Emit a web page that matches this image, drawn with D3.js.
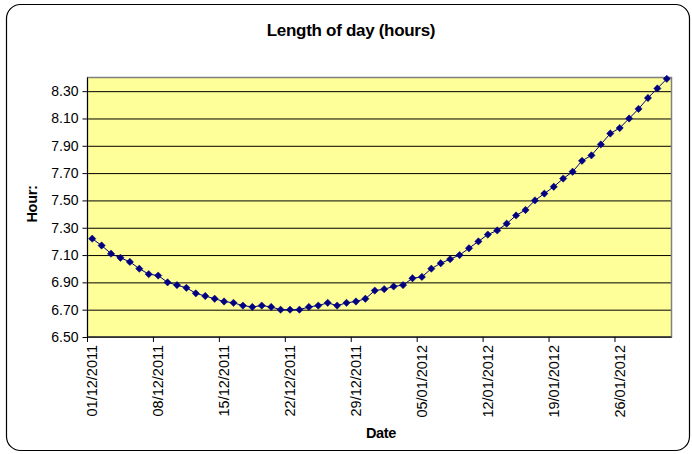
<!DOCTYPE html>
<html>
<head>
<meta charset="utf-8">
<script src="https://cdn.jsdelivr.net/npm/d3@7"></script>
<style>
  body { margin: 0; background: #fff; }
  text { font-family: "Liberation Sans", Arial, sans-serif; }
</style>
</head>
<body>
<div id="chart"></div>
<script>
var w = 692;
var h = 454;

// dates 01/12/2011 .. 31/01/2012
var dates = [
  '01/12/2011','02/12/2011','03/12/2011','04/12/2011','05/12/2011','06/12/2011','07/12/2011',
  '08/12/2011','09/12/2011','10/12/2011','11/12/2011','12/12/2011','13/12/2011','14/12/2011',
  '15/12/2011','16/12/2011','17/12/2011','18/12/2011','19/12/2011','20/12/2011','21/12/2011',
  '22/12/2011','23/12/2011','24/12/2011','25/12/2011','26/12/2011','27/12/2011','28/12/2011',
  '29/12/2011','30/12/2011','31/12/2011','01/01/2012','02/01/2012','03/01/2012','04/01/2012',
  '05/01/2012','06/01/2012','07/01/2012','08/01/2012','09/01/2012','10/01/2012','11/01/2012',
  '12/01/2012','13/01/2012','14/01/2012','15/01/2012','16/01/2012','17/01/2012','18/01/2012',
  '19/01/2012','20/01/2012','21/01/2012','22/01/2012','23/01/2012','24/01/2012','25/01/2012',
  '26/01/2012','27/01/2012','28/01/2012','29/01/2012','30/01/2012','31/01/2012'
];
var hours = [
  7.22, 7.17, 7.11, 7.08, 7.05, 7.00, 6.96, 6.95, 6.90, 6.88,
  6.86, 6.82, 6.80, 6.78, 6.76, 6.75, 6.73, 6.72, 6.73, 6.72,
  6.70, 6.70, 6.70, 6.72, 6.73, 6.75, 6.73, 6.75, 6.76, 6.78,
  6.84, 6.85, 6.87, 6.88, 6.93, 6.94, 7.00, 7.04, 7.07, 7.10,
  7.15, 7.20, 7.25, 7.28, 7.33, 7.39, 7.43, 7.50, 7.55, 7.60,
  7.66, 7.71, 7.79, 7.83, 7.91, 7.99, 8.03, 8.10, 8.17, 8.25,
  8.32, 8.39
];
var yTicks = [6.50, 6.70, 6.90, 7.10, 7.30, 7.50, 7.70, 7.90, 8.10, 8.30];
var xLabels = ['01/12/2011','08/12/2011','15/12/2011','22/12/2011','29/12/2011',
  '05/01/2012','12/01/2012','19/01/2012','26/01/2012'];

var dataset = dates.map(function(d, i){ return {date: d, hours: hours[i]}; });

var plot = {left: 87.5, top: 77.5, right: 671.5, bottom: 337};
var innerW = plot.right - plot.left,
  innerH = plot.bottom - plot.top;

var x = d3.scaleBand()
  .domain(dates)
  .range([0, innerW])
  .padding(0);

var y = d3.scaleLinear()
  .domain([6.5, 8.4])
  .range([innerH, 0]);

var svg = d3.select('#chart')
  .append('svg')
    .attr('width', w)
    .attr('height', h);

// outer chart frame
svg.append('rect')
  .attr('x', 6.5).attr('y', 4.5)
  .attr('width', 683).attr('height', 446)
  .attr('rx', 14).attr('ry', 14)
  .style('fill', '#fff')
  .style('stroke', '#000')
  .style('stroke-width', 1.2);

svg.append('text')
  .attr('x', 351).attr('y', 36)
  .attr('text-anchor', 'middle')
  .style('font-size', '17px')
  .style('font-weight', 'bold')
  .style('letter-spacing', '-0.3px')
  .text('Length of day (hours)');

var g = svg.append('g')
  .attr('transform', 'translate(' + [plot.left, plot.top] + ')');

g.append('rect')
  .attr('width', innerW)
  .attr('height', innerH)
  .style('fill', '#ffff99');

// y axis with gridlines
var yAxis = d3.axisLeft(y)
  .tickValues(yTicks)
  .tickSize(-innerW)
  .tickPadding(8)
  .tickFormat(d3.format('.2f'));

var yAxisG = g.append('g')
  .attr('class', 'y axis')
  .call(yAxis);
yAxisG.select('.domain').remove();
yAxisG.selectAll('.tick line')
  .style('stroke', '#000')
  .style('stroke-width', 1);
yAxisG.selectAll('.tick')
  .append('line')
  .attr('x1', -5).attr('x2', 0)
  .style('stroke', '#000');
yAxisG.selectAll('.tick text')
  .style('font-size', '14px')
  .attr('x', -9)
  .attr('fill', '#000');

// plot border
g.append('rect')
  .attr('width', innerW)
  .attr('height', innerH)
  .style('fill', 'none')
  .style('stroke', '#808080')
  .style('stroke-width', 1.5);
g.append('line')
  .attr('x1', 0).attr('x2', 0)
  .attr('y1', 0).attr('y2', innerH)
  .style('stroke', '#000');
g.append('line')
  .attr('x1', 0).attr('x2', innerW)
  .attr('y1', innerH).attr('y2', innerH)
  .style('stroke', '#000');

// x axis: ticks at weekly category boundaries, labels at category centre
var xAxisG = g.append('g')
  .attr('class', 'x axis')
  .attr('transform', 'translate(' + [0, innerH] + ')');

xAxisG.selectAll('.xtick')
  .data(xLabels)
  .enter().append('line')
    .attr('x1', function(d){ return x(d); })
    .attr('x2', function(d){ return x(d); })
    .attr('y1', 0).attr('y2', 5)
    .style('stroke', '#000');

xAxisG.selectAll('.xlabel')
  .data(xLabels)
  .enter().append('text')
    .attr('transform', function(d){
      return 'translate(' + [x(d) + x.bandwidth() / 2 + 5, 8] + ') rotate(-90)';
    })
    .attr('text-anchor', 'end')
    .style('font-size', '14.5px')
    .text(function(d){ return d; });

// axis titles
svg.append('text')
  .attr('transform', 'translate(' + [37, 204] + ') rotate(-90)')
  .attr('text-anchor', 'middle')
  .style('font-size', '14.5px')
  .style('font-weight', 'bold')
  .style('letter-spacing', '-0.3px')
  .text('Hour:');

svg.append('text')
  .attr('x', 381).attr('y', 438)
  .attr('text-anchor', 'middle')
  .style('font-size', '14.5px')
  .style('font-weight', 'bold')
  .style('letter-spacing', '-0.3px')
  .text('Date');

// series
var line = d3.line()
  .x(function(d){ return x(d.date) + x.bandwidth() / 2; })
  .y(function(d){ return y(d.hours); });

g.append('path')
  .datum(dataset)
  .attr('d', line)
  .style('fill', 'none')
  .style('stroke', '#000080')
  .style('stroke-width', 1);

g.selectAll('.pt')
  .data(dataset)
  .enter().append('path')
    .attr('class', 'pt')
    .attr('d', d3.symbol().type(d3.symbolDiamond2).size(34))
    .attr('transform', function(d){
      return 'translate(' + [x(d.date) + x.bandwidth() / 2, y(d.hours)] + ')';
    })
    .style('fill', '#000080')
    .style('stroke', '#000080')
    .style('stroke-width', 0.5);
</script>
</body>
</html>
